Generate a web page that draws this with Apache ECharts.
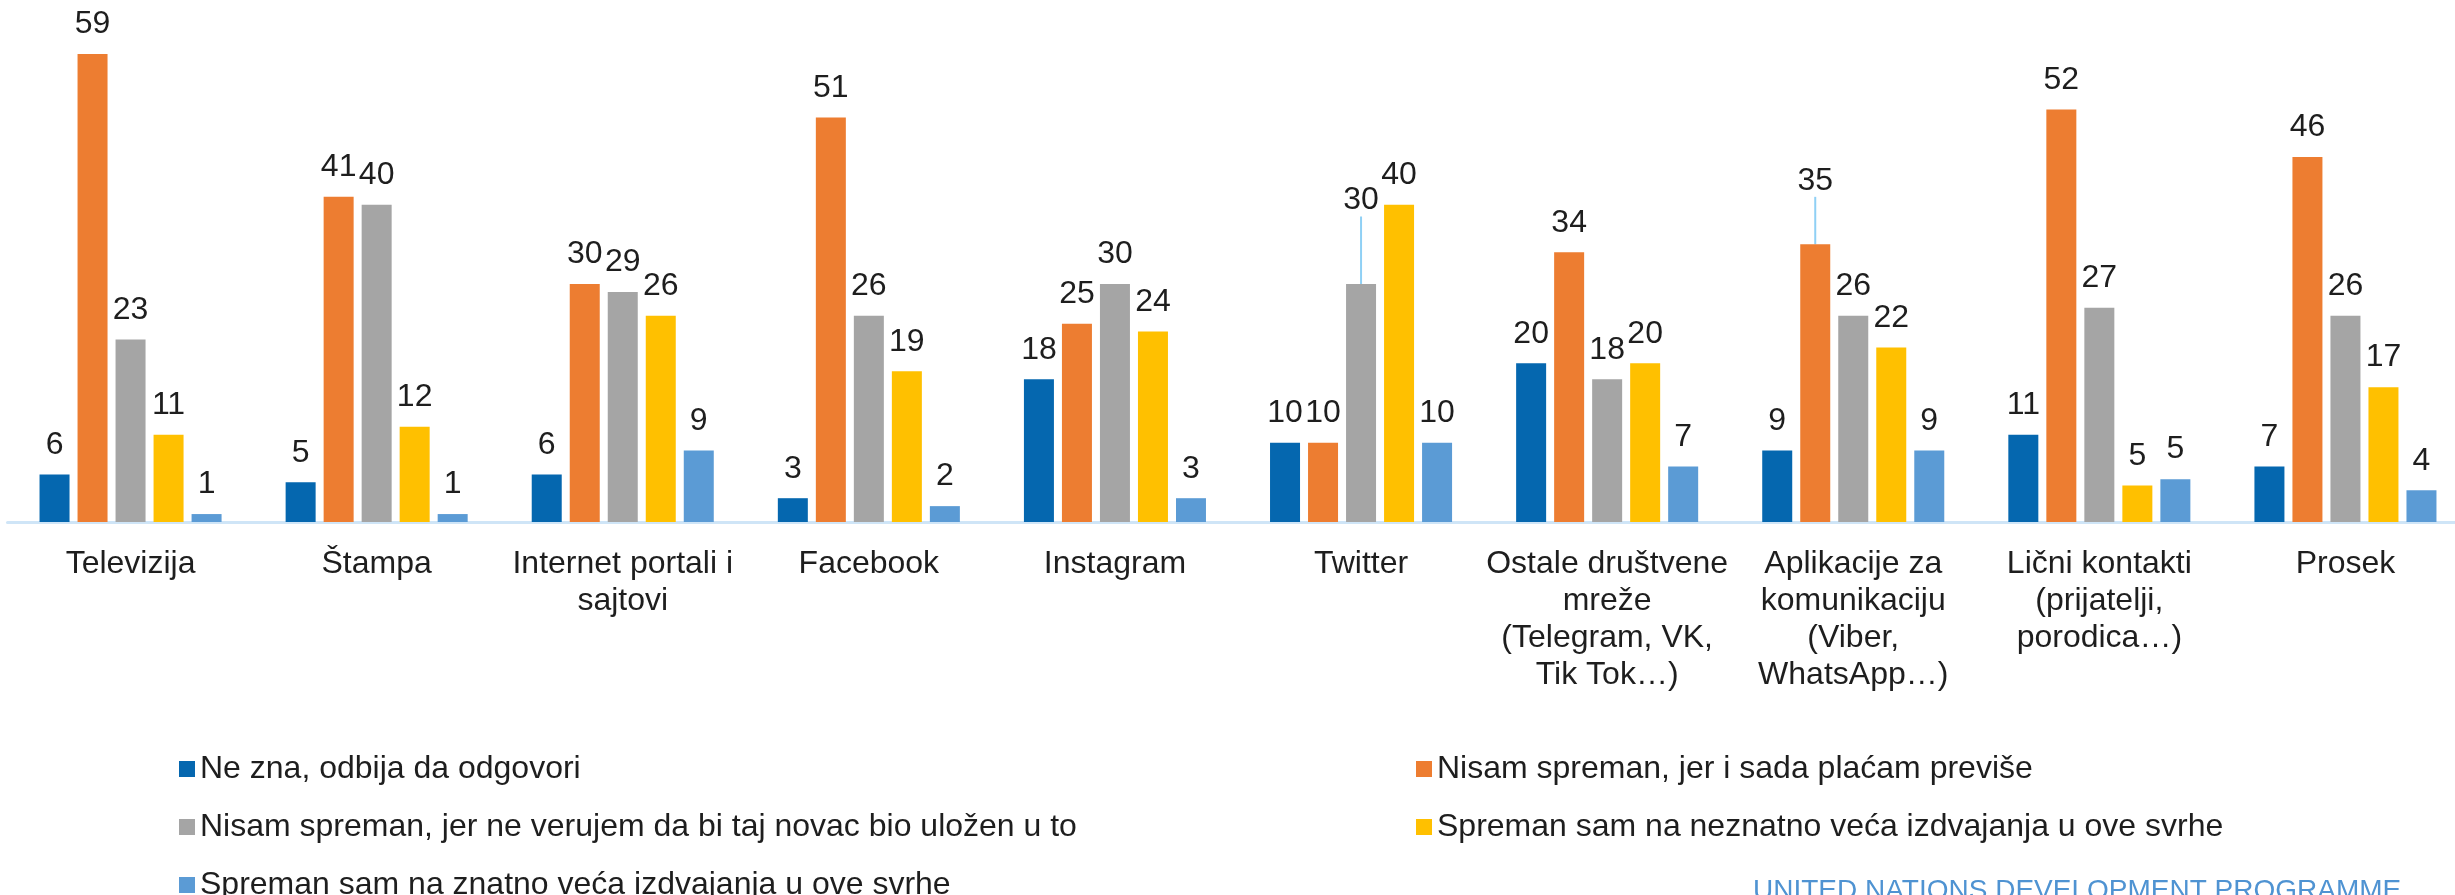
<!DOCTYPE html>
<html>
<head>
<meta charset="utf-8">
<title>Spremnost za izdvajanja</title>
<script src="https://cdn.jsdelivr.net/npm/echarts@6.0.0/dist/echarts.min.js"></script>
<style>
  html, body { margin: 0; padding: 0; background: #fff; }
  #chart { width: 2455px; height: 895px; }
</style>
</head>
<body>
<div id="chart"></div>
<script>
// 分类名称
const categories = [
  'Televizija',
  'Štampa',
  'Internet portali i\nsajtovi',
  'Facebook',
  'Instagram',
  'Twitter',
  'Ostale društvene\nmreže\n(Telegram, VK,\nTik Tok…)',
  'Aplikacije za\nkomunikaciju\n(Viber,\nWhatsApp…)',
  'Lični kontakti\n(prijatelji,\nporodica…)',
  'Prosek'
]
// 系列名称
const seriesNames = [
  'Ne zna, odbija da odgovori',
  'Nisam spreman, jer i sada plaćam previše',
  'Nisam spreman, jer ne verujem da bi taj novac bio uložen u to',
  'Spreman sam na neznatno veća izdvajanja u ove svrhe',
  'Spreman sam na znatno veća izdvajanja u ove svrhe'
]
// 各系列数值
const neZna = [6, 5, 6, 3, 18, 10, 20, 9, 11, 7]
const placamPrevise = [59, 41, 30, 51, 25, 10, 34, 35, 52, 46]
const neVerujem = [23, 40, 29, 26, 30, 30, 18, 26, 27, 26]
const neznatno = [11, 12, 26, 19, 24, 40, 20, 22, 4.6, 17]
const znatno = [1, 1, 9, 2, 3, 10, 7, 9, 5.4, 4]

const seriesData = [neZna, placamPrevise, neVerujem, neznatno, znatno]
const colors = ['#0567AF', '#ED7D31', '#A5A5A5', '#FFC000', '#5B9BD5']
const fontFamily = '"Liberation Sans", Arial, sans-serif'
// 需要上移并加引导线的标签: [系列, 分类, 上移像素]
const movedLabels = [[2, 5, -54], [1, 7, -34]]

function findMoved(s, i) {
  return movedLabels.find(m => m[0] === s && m[1] === i)
}

const chart = echarts.init(document.getElementById('chart'), null, { renderer: 'canvas' })

// 图例公共样式
const legendBase = {
  top: 753,
  height: 200,
  padding: 0,
  orient: 'vertical',
  icon: 'rect',
  itemWidth: 16,
  itemHeight: 16,
  itemGap: 26,
  textStyle: { fontSize: 32, lineHeight: 32, color: '#1e1e1e', fontFamily: fontFamily }
}

let option = {
  animation: false,
  backgroundColor: '#ffffff',
  grid: {
    left: 7.5,
    width: 2461,
    top: 46,
    bottom: 373,
    outerBoundsMode: 'none'
  },
  xAxis: {
    type: 'category',
    data: categories,
    axisTick: { show: false },
    axisLine: { lineStyle: { color: '#cfe5f7', width: 3 } },
    axisLabel: {
      interval: 0,
      margin: 24,
      fontSize: 32,
      lineHeight: 37,
      color: '#1e1e1e',
      fontFamily: fontFamily,
      align: 'center'
    }
  },
  yAxis: {
    type: 'value',
    min: 0,
    max: 60,
    show: false,
    splitLine: { show: false }
  },
  // 图例分两列
  legend: [
    Object.assign({}, legendBase, { left: 179, data: [seriesNames[0], seriesNames[2], seriesNames[4]] }),
    Object.assign({}, legendBase, { left: 1416, data: [seriesNames[1], seriesNames[3]] })
  ],
  graphic: [{
    type: 'text',
    left: 1753,
    top: 877,
    style: {
      text: 'UNITED NATIONS DEVELOPMENT PROGRAMME',
      fontSize: 28,
      fontFamily: fontFamily,
      fill: '#4f93d2'
    }
  }],
  series: seriesData.map((values, s) => ({
    name: seriesNames[s],
    type: 'bar',
    barWidth: 30,
    barGap: '26.7%',
    itemStyle: { color: colors[s] },
    label: {
      show: true,
      position: 'top',
      distance: 13.5,
      fontSize: 32,
      lineHeight: 32,
      color: '#1e1e1e',
      fontFamily: fontFamily,
      formatter: p => Math.round(p.value)
    },
    labelLayout: p => {
      const m = findMoved(s, p.dataIndex)
      return m ? { dy: m[2] } : {}
    },
    data: values.map((v, i) => {
      if (!findMoved(s, i)) return v
      return {
        value: v,
        labelLine: { show: true, lineStyle: { color: '#8fd0f5', width: 2 } }
      }
    })
  }))
}

chart.setOption(option)
</script>
</body>
</html>
